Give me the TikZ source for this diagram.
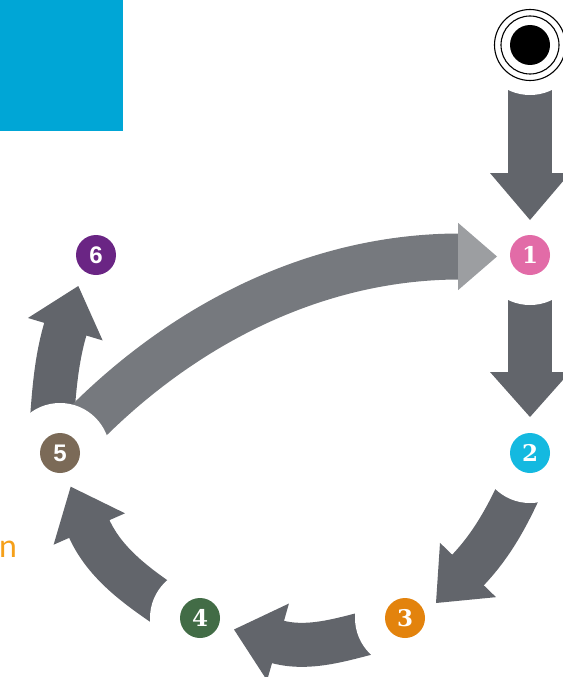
\documentclass[tikz,border=0pt]{standalone}
\usepackage{fontspec}
\setmainfont{Liberation Sans}
\newfontfamily\slabfont{DejaVu Serif}
\newfontfamily\thinfont{Lato}
\usetikzlibrary{calc}
\definecolor{shaft}{HTML}{62656B}
\definecolor{lshaft}{HTML}{76797E}
\definecolor{lhead}{HTML}{9C9EA1}
\definecolor{cblue}{HTML}{00A6D6}
\definecolor{cpink}{HTML}{E26BA7}
\definecolor{ccyan}{HTML}{14B9E0}
\definecolor{corange}{HTML}{E3830D}
\definecolor{cgreen}{HTML}{426C46}
\definecolor{cbrown}{HTML}{7B6A57}
\definecolor{cpurple}{HTML}{6A2584}
\definecolor{ctext}{HTML}{F5A01A}
\newcommand\myhead[4]{\fill[#4] (#2) -- ($(#1)!#3!90:(#2)$) -- ($(#1)!#3!-90:(#2)$) -- cycle;}
\tikzset{
  shaftline/.style={draw=shaft, line width=44pt, line cap=butt},
  cutout/.style={fill=white, draw=none},
  numnode/.style={circle, minimum size=40pt, inner sep=0pt, text=white, font=\slabfont\bfseries\fontsize{23}{23}\selectfont},
  numsans/.style={circle, minimum size=40pt, inner sep=0pt, text=white, font=\bfseries\fontsize{24}{24}\selectfont}
}
\begin{document}
\begin{tikzpicture}[x=1pt,y=-1pt]
\useasboundingbox (0,0) rectangle (562,677);
\fill[cblue] (0,0) rectangle (123,131);
% node positions
\coordinate (st) at (530,45);
\coordinate (c1) at (530,255);
\coordinate (c2) at (530,453);
\coordinate (c3) at (405,618);
\coordinate (c4) at (200,618);
\coordinate (c5) at (60,453);
\coordinate (c6) at (96,255);
% head bases and tips
\coordinate (b01) at (530,173); \coordinate (t01) at (530,220);
\coordinate (b12) at (530,372); \coordinate (t12) at (530,417);
\coordinate (p23) at (528.7,468.4); \coordinate (q23) at (513.1,505.2);
\coordinate (b23) at (468,570); \coordinate (t23) at (436,603);
\coordinate (p34) at (393,627); \coordinate (q34) at (356,634);
\coordinate (b34) at (278,642); \coordinate (t34) at (234,629.5);
\coordinate (p45) at (185,619); \coordinate (q45) at (148.4,593.7);
\coordinate (b45) at (89.3,529); \coordinate (t45) at (70.7,486.7);
\coordinate (p56) at (50.5,439); \coordinate (q56) at (53.5,402);
\coordinate (b56) at (65.3,329.2); \coordinate (t56) at (78.3,286);
\coordinate (p51) at (70,440); \coordinate (q51) at (171.4,331.1);
\coordinate (b51) at (458,256.5); \coordinate (t51) at (497,256.5);
% shafts
\draw[shaftline] (st) -- ($(b01)!2pt!(t01)$);
\draw[shaftline] (c1) -- ($(b12)!2pt!(t12)$);
\draw[shaftline] (p23) .. controls (q23) and ($(b23)!-40pt!(t23)$) .. ($(b23)!2pt!(t23)$);
\draw[shaftline] (p34) .. controls (q34) and ($(b34)!-38pt!(t34)$) .. ($(b34)!2pt!(t34)$);
\draw[shaftline] (p45) .. controls (q45) and ($(b45)!-44pt!(t45)$) .. ($(b45)!2pt!(t45)$);
\draw[shaftline] (p56) .. controls (q56) and ($(b56)!-37pt!(t56)$) .. ($(b56)!2pt!(t56)$);
\draw[shaftline, draw=lshaft, line width=46pt] (p51) .. controls (q51) and ($(b51)!-149pt!(t51)$) .. ($(b51)!2pt!(t51)$);
% tail cut-outs
\foreach \c in {st,c1,c2,c3,c4,c5} \fill[cutout] (\c) circle (50);
% heads
\myhead{b01}{t01}{40pt}{shaft}
\myhead{b12}{t12}{40pt}{shaft}
\myhead{b23}{t23}{39pt}{shaft}
\myhead{b34}{t34}{40pt}{shaft}
\myhead{b45}{t45}{39pt}{shaft}
\myhead{b56}{t56}{39pt}{shaft}
\myhead{b51}{t51}{33.7pt}{lhead}
% start symbol
\node[circle, draw=black, line width=1.1pt, minimum size=71pt, inner sep=0pt] (start) at (st) {};
\node[circle, draw=black, line width=1.1pt, minimum size=58pt, inner sep=0pt] (startin) at (st) {};
\node[circle, fill=black, minimum size=40pt, inner sep=0pt] (startdot) at (st) {};
% numbered nodes
\node[numnode, fill=cpink] (n1) at (c1) {1};
\node[numnode, fill=ccyan] (n2) at (c2) {2};
\node[numnode, fill=corange] (n3) at (c3) {3};
\node[numnode, fill=cgreen] (n4) at (c4) {4};
\node[numsans, fill=cbrown] (n5) at (c5) {5};
\node[numsans, fill=cpurple] (n6) at (c6) {6};
% cut-off label
\node[anchor=base west, inner sep=0pt, text=ctext, font=\thinfont\fontsize{32}{32}\selectfont] (lbl) at (-1,557) {n};
\end{tikzpicture}
\end{document}
